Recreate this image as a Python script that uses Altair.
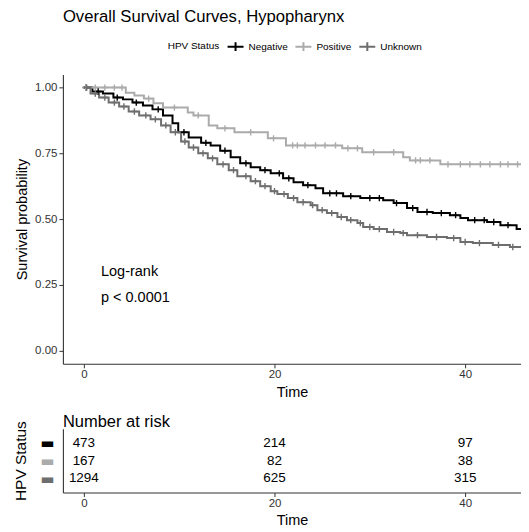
import bisect
import altair as alt
import pandas as pd

FONT = "Liberation Sans"

groups = ["Negative", "Positive", "Unknown"]
colors = ["#000000", "#ABABAB", "#6E6E6E"]

# Kaplan-Meier step curves (time, survival)
neg_t = [0, 0.9, 2.0, 3.1, 4.1, 5.1, 6.2, 7.2, 8.3, 9.3, 9.9, 11.0, 12.3, 13.3, 14.3, 15.4, 16.4, 17.5,
         18.5, 19.6, 20.9, 22.0, 23.0, 24.3, 25.1, 27.2, 29.0, 31.4, 32.5, 33.9, 35.0, 36.6, 38.4, 39.5,
         40.3, 42.3, 43.7, 45.4, 46.5, 48.0]
neg_s = [1.0, 0.985, 0.977, 0.962, 0.955, 0.943, 0.932, 0.917, 0.894, 0.864, 0.83, 0.81, 0.79, 0.78,
         0.76, 0.735, 0.712, 0.697, 0.686, 0.674, 0.655, 0.64, 0.629, 0.617, 0.598, 0.587, 0.58, 0.572,
         0.561, 0.542, 0.527, 0.523, 0.515, 0.504, 0.496, 0.489, 0.477, 0.462, 0.447, 0.447]

pos_t = [0, 4.4, 5.3, 6.3, 7.3, 8.3, 10.9, 11.5, 13.1, 14.0, 15.8, 19.3, 21.2, 27.1, 29.2, 33.5, 34.2,
         37.4, 48.0]
pos_s = [1.0, 0.98, 0.97, 0.958, 0.94, 0.924, 0.905, 0.894, 0.856, 0.845, 0.83, 0.807, 0.78, 0.769,
         0.754, 0.735, 0.723, 0.708, 0.708]

unk_t = [0, 0.7, 1.6, 2.6, 3.7, 4.7, 5.8, 7.0, 8.1, 9.1, 10.2, 11.0, 12.0, 13.0, 14.0, 15.2, 16.1, 17.5,
         18.5, 19.6, 20.3, 21.4, 22.4, 23.8, 24.5, 25.5, 26.6, 27.6, 28.7, 29.3, 30.4, 31.8, 33.2, 33.9,
         36.0, 38.1, 39.5, 40.8, 42.9, 44.7, 46.5, 48.0]
unk_s = [1.0, 0.977, 0.962, 0.943, 0.928, 0.909, 0.894, 0.879, 0.856, 0.83, 0.795, 0.772, 0.75, 0.731,
         0.708, 0.686, 0.663, 0.644, 0.625, 0.606, 0.595, 0.58, 0.564, 0.553, 0.534, 0.523, 0.508, 0.496,
         0.485, 0.47, 0.462, 0.451, 0.447, 0.439, 0.432, 0.428, 0.413, 0.409, 0.402, 0.394, 0.39, 0.39]

# censoring times (marked with +)
neg_c = [0.2, 1.5, 3.5, 5.5, 7.8, 10.5, 12.8, 14.8, 17.0, 19.0, 20.5, 21.5, 23.5, 25.8, 26.5, 28.0, 30.0,
         31.0, 32.8, 34.5, 36.0, 37.5, 39.0, 41.0, 42.0, 43.0, 44.5]
pos_c = [0.2, 1.2, 2.2, 3.2, 4.0, 6.8, 9.5, 12.0, 14.8, 17.5, 19.9, 21.9, 22.4, 23.2, 24.3, 25.3, 26.4,
         27.7, 28.7, 30.4, 32.5, 34.8, 35.3, 36.3, 38.2, 39.5, 40.5, 41.6, 42.6, 43.7, 44.5, 45.5]
unk_c = [0.3, 1.2, 2.2, 3.2, 4.2, 5.3, 6.5, 7.5, 8.6, 9.6, 10.6, 11.5, 12.5, 13.5, 14.6, 15.7, 17.0, 18.0,
         19.0, 20.0, 21.0, 22.0, 23.0, 24.0, 25.0, 26.0, 27.0, 28.0, 29.0, 30.0, 31.0, 32.5, 33.5, 35.0,
         37.0, 38.8, 40.0, 41.5, 43.5, 45.0]

# number at risk table
risk_times = [0, 20, 40]
risk_neg = [473, 214, 97]
risk_pos = [167, 82, 38]
risk_unk = [1294, 625, 315]

annot_x = [1.8, 1.8]
annot_y = [0.30, 0.20]
annot_text = ["Log-rank", "p < 0.0001"]

series = {
    "Negative": (neg_t, neg_s, neg_c, risk_neg),
    "Positive": (pos_t, pos_s, pos_c, risk_pos),
    "Unknown": (unk_t, unk_s, unk_c, risk_unk),
}

curve_rows, cens_rows, risk_rows = [], [], []
for gi, g in enumerate(groups):
    ts, ss, cs, rs = series[g]
    for t, s in zip(ts, ss):
        curve_rows.append({"group": g, "time": t, "surv": s})
    for c in cs:
        i = bisect.bisect_right(ts, c) - 1
        cens_rows.append({"group": g, "time": c, "surv": ss[i]})
    for t, n in zip(risk_times, rs):
        risk_rows.append({"group": g, "row": gi + 1, "time": t, "n": n})

curves = pd.DataFrame(curve_rows)
cens = pd.DataFrame(cens_rows)
risk = pd.DataFrame(risk_rows)
annot = pd.DataFrame({"x": annot_x, "y": annot_y, "label": annot_text})

color_scale = alt.Scale(domain=groups, range=colors)
xscale = alt.Scale(domain=[-2.2, 45.86], nice=False, zero=False)
yscale = alt.Scale(domain=[-0.05, 1.05], nice=False, zero=False)

PLUS = "M-1,0H1M0,-1V1"
LEG = "M-1,0H1M0,-0.55V0.55"

x_axis = alt.Axis(values=risk_times, title="Time", grid=False, labelPadding=1, titlePadding=5)

lines = alt.Chart(curves).mark_line(interpolate="step-after", strokeWidth=2, clip=True).encode(
    x=alt.X("time:Q", scale=xscale, axis=x_axis),
    y=alt.Y("surv:Q", scale=yscale,
            axis=alt.Axis(values=[0, 0.25, 0.5, 0.75, 1.0], format=".2f", grid=False,
                          title="Survival probability", labelPadding=2, titlePadding=5)),
    color=alt.Color("group:N", scale=color_scale,
                    legend=alt.Legend(title="HPV Status", orient="none", direction="horizontal",
                                      titleOrient="left", legendX=105, legendY=-37,
                                      symbolType=LEG, symbolSize=256, symbolStrokeWidth=2,
                                      labelFontSize=10, titleFontSize=10, titleFontWeight="normal",
                                      labelFont=FONT, titleFont=FONT, labelOffset=4, columnPadding=3,
                                      titlePadding=7, titleColor="#000", labelColor="#000")),
)

marks = alt.Chart(cens).mark_point(shape=PLUS, size=40, strokeWidth=1.4, filled=False, opacity=1,
                                   clip=True).encode(
    x=alt.X("time:Q", scale=xscale),
    y=alt.Y("surv:Q", scale=yscale),
    color=alt.Color("group:N", scale=color_scale, legend=None),
)

text = alt.Chart(annot).mark_text(align="left", baseline="middle", fontSize=14.5, font=FONT,
                                  color="#000").encode(
    x=alt.X("x:Q", scale=xscale),
    y=alt.Y("y:Q", scale=yscale),
    text="label:N",
)

km = alt.layer(lines, marks, text).properties(
    width=459, height=290,
    title=alt.TitleParams("Overall Survival Curves, Hypopharynx", anchor="start", frame="group",
                          fontSize=16.7, fontWeight="normal", font=FONT, color="#000", offset=49),
)

row_color = {
    "condition": {"test": "datum.value == 1", "value": colors[0]},
    "expr": "datum.value == 2 ? '%s' : '%s'" % (colors[1], colors[2]),
}

table = alt.Chart(risk).mark_text(fontSize=13.5, font=FONT, color="#000", baseline="middle").encode(
    x=alt.X("time:Q", scale=xscale, axis=x_axis),
    y=alt.Y("row:Q", scale=alt.Scale(domain=[0.2, 3.8], reverse=True, nice=False, zero=False),
            axis=alt.Axis(values=[1, 2, 3], labelExpr="'\u25ac'", labelColor=row_color, grid=False,
                          labelOverlap=False, labelFont="DejaVu Sans", labelFontSize=15, ticks=False,
                          labelPadding=9, title="HPV Status", titleFontSize=15.5, titlePadding=11)),
    text="n:Q",
).properties(
    width=459, height=64,
    title=alt.TitleParams("Number at risk", anchor="start", frame="group", fontSize=16.5,
                          fontWeight="normal", font=FONT, color="#000", offset=-10),
)

chart = alt.vconcat(km, table, spacing=15).properties(
    padding={"left": 5, "top": 0, "right": 0, "bottom": 0}, background="white"
).configure_view(strokeWidth=0, stroke="transparent").configure_axis(
    grid=False, domainColor="#333", domainWidth=1.1, tickColor="#333", tickSize=4,
    labelFont=FONT, labelFontSize=11.5, labelColor="#333", titleFont=FONT, titleFontSize=14.5,
    titleFontWeight="normal", titleColor="#000",
)

chart.save("out.html", embed_options={"renderer": "svg", "actions": False})
